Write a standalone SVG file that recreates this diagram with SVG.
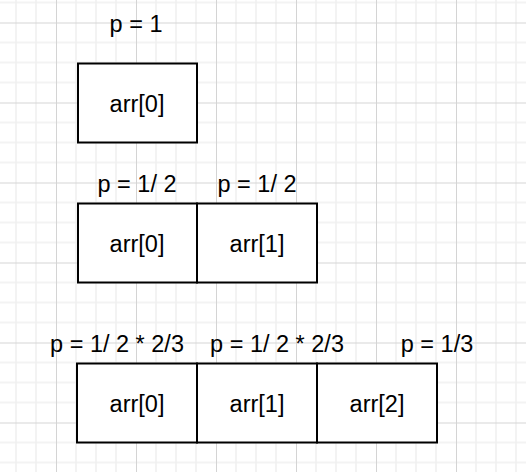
<svg xmlns="http://www.w3.org/2000/svg" width="526" height="472" viewBox="0 0 526 472">
<style>
.box{fill:#ffffff;stroke:#000000;stroke-width:2}
.t{font-family:"Liberation Sans",Arial,Helvetica,sans-serif;font-size:23.5px;fill:#000000;text-anchor:middle}
</style>
<defs>
<pattern id="grid" x="56" y="22.5" width="80" height="80" patternUnits="userSpaceOnUse">
<path d="M20 0V80M40 0V80M60 0V80M0 20H80M0 40H80M0 60H80" stroke="#efefef" stroke-width="1.5" fill="none"/>
<path d="M0.5 0V80M0 0.5H80" stroke="#d4d4d4" stroke-width="1" fill="none"/>
</pattern>
</defs>
<rect x="0" y="0" width="526" height="472" fill="#ffffff"/>
<rect x="0" y="0" width="526" height="472" fill="url(#grid)"/>
<g id="label-row1"><text class="t" x="136" y="32">p = 1</text></g>
<g id="row1-arr0"><rect class="box" x="78" y="63.5" width="119" height="79"/><text class="t" x="137" y="112">arr[0]</text></g>
<g id="label-row2-0"><text class="t" x="137" y="192">p = 1/ 2</text></g>
<g id="label-row2-1"><text class="t" x="257" y="192">p = 1/ 2</text></g>
<g id="row2-arr0"><rect class="box" x="78" y="203.5" width="119" height="79"/><text class="t" x="137" y="252">arr[0]</text></g>
<g id="row2-arr1"><rect class="box" x="197" y="203.5" width="120" height="79"/><text class="t" x="257" y="252">arr[1]</text></g>
<g id="label-row3-0"><text class="t" x="117" y="352">p = 1/ 2 * 2/3</text></g>
<g id="label-row3-1"><text class="t" x="277" y="352">p = 1/ 2 * 2/3</text></g>
<g id="label-row3-2"><text class="t" x="437" y="352">p = 1/3</text></g>
<g id="row3-arr0"><rect class="box" x="77" y="363.5" width="120" height="79"/><text class="t" x="137" y="412">arr[0]</text></g>
<g id="row3-arr1"><rect class="box" x="197" y="363.5" width="120" height="79"/><text class="t" x="257" y="412">arr[1]</text></g>
<g id="row3-arr2"><rect class="box" x="317" y="363.5" width="120" height="79"/><text class="t" x="377" y="412">arr[2]</text></g>
<g id="connectors"></g>
</svg>
